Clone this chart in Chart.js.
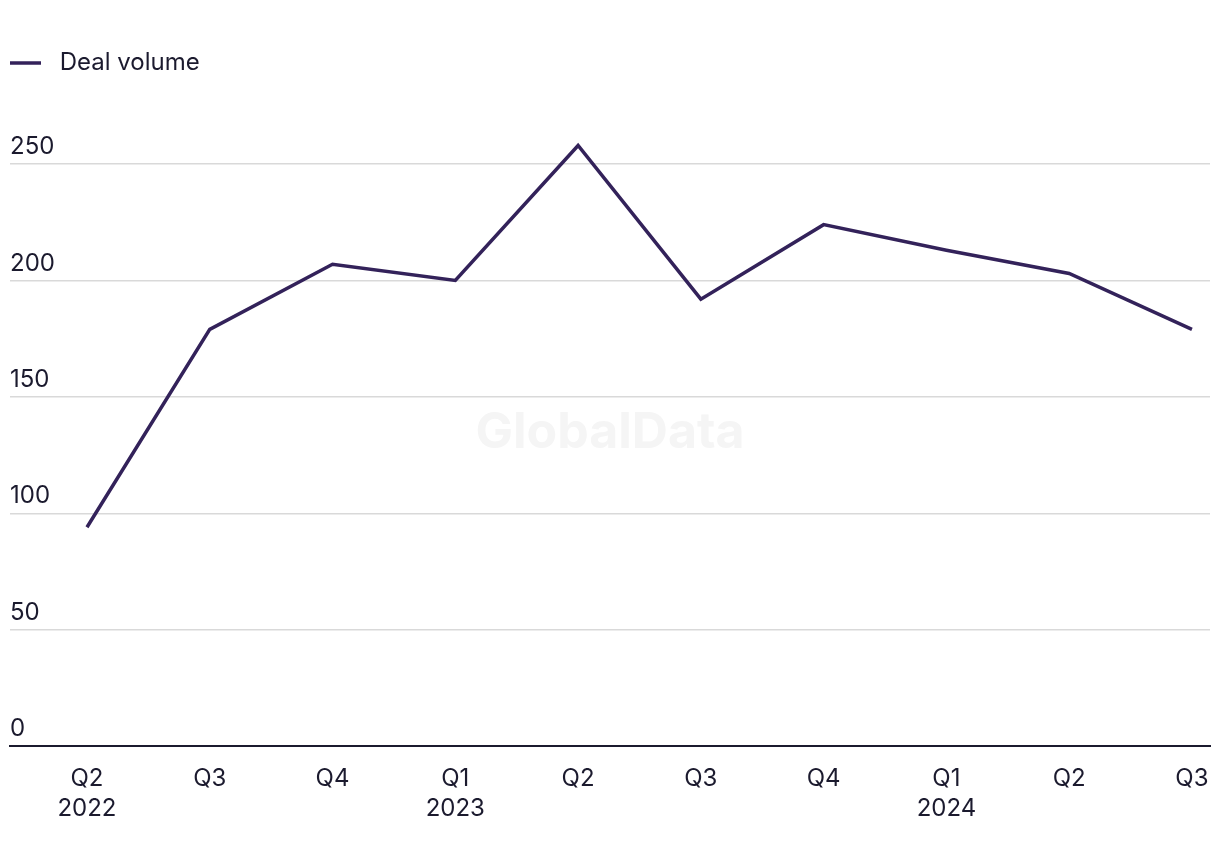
<!DOCTYPE html>
<html>
<head>
<script src="https://cdn.jsdelivr.net/npm/chart.js@4.4.1/dist/chart.umd.min.js"></script>
<style>
  html, body { margin: 0; padding: 0; background: #fff; }
  .chartBox { width: 1220px; height: 866px; }
</style>
</head>
<body>
  <div class="chartBox">
    <canvas id="dealChart"></canvas>
  </div>
<script>
const quarters = [['Q2', '2022'], 'Q3', 'Q4', ['Q1', '2023'], 'Q2', 'Q3', 'Q4', ['Q1', '2024'], 'Q2', 'Q3'];
const dealVolume = [94, 179, 207, 200, 258, 192, 224, 213, 203, 179];
const yTicks = [0, 50, 100, 150, 200, 250];

const inkColor = '#1b1a2e';
const lineColor = '#33225a';
const fontFamily = 'Inter, "Noto Sans", sans-serif';

// faint watermark in the middle of the plot
const watermark = {
  id: 'watermark',
  beforeDatasetsDraw(chart) {
    const {ctx, chartArea} = chart;
    ctx.save();
    ctx.font = 'bold 50px ' + fontFamily;
    ctx.fillStyle = '#f5f5f5';
    ctx.textAlign = 'center';
    ctx.textBaseline = 'middle';
    ctx.fillText('GlobalData', (chartArea.left + chartArea.right) / 2, 433);
    ctx.restore();
  }
};

const ctx = document.getElementById('dealChart');
const dealChart = new Chart(ctx, {
  type: 'line',
  data: {
    datasets: [{
      label: 'Deal volume',
      data: dealVolume.map((v, i) => ({x: i, y: v})),
      borderColor: lineColor,
      backgroundColor: lineColor,
      borderWidth: 3.5,
      pointRadius: 0,
      tension: 0
    }]
  },
  options: {
    responsive: true,
    maintainAspectRatio: false,
    animation: false,
    layout: { padding: { left: 10, right: 10, top: 51, bottom: 32 } },
    plugins: {
      legend: {
        align: 'start',
        labels: {
          usePointStyle: true,
          pointStyle: 'line',
          pointStyleWidth: 31,
          color: inkColor,
          font: { family: fontFamily, size: 24 },
          padding: 0,
          generateLabels(chart) {
            const items = Chart.defaults.plugins.legend.labels.generateLabels(chart);
            items.forEach(it => { it.text = ' ' + it.text; });
            return items;
          }
        }
      },
      tooltip: { enabled: false }
    },
    scales: {
      x: {
        type: 'linear',
        min: -0.627,
        max: 9.147,
        afterBuildTicks(scale) {
          scale.ticks = quarters.map((_, i) => ({value: i}));
        },
        grid: { display: false },
        border: { display: true, color: inkColor, width: 2 },
        ticks: {
          color: inkColor,
          font: { family: fontFamily, size: 24, lineHeight: 1.25 },
          padding: 10,
          maxRotation: 0,
          autoSkip: false,
          callback: (value) => quarters[value]
        }
      },
      y: {
        min: 0,
        max: 284,
        afterBuildTicks(scale) {
          scale.ticks = yTicks.map(v => ({value: v}));
        },
        grid: { color: '#d9d9d9', lineWidth: 1.5, drawTicks: false },
        border: { display: false },
        ticks: {
          mirror: true,
          padding: 0,
          labelOffset: -17,
          color: inkColor,
          font: { family: fontFamily, size: 24 }
        }
      }
    }
  },
  plugins: [watermark]
});
</script>
</body>
</html>
